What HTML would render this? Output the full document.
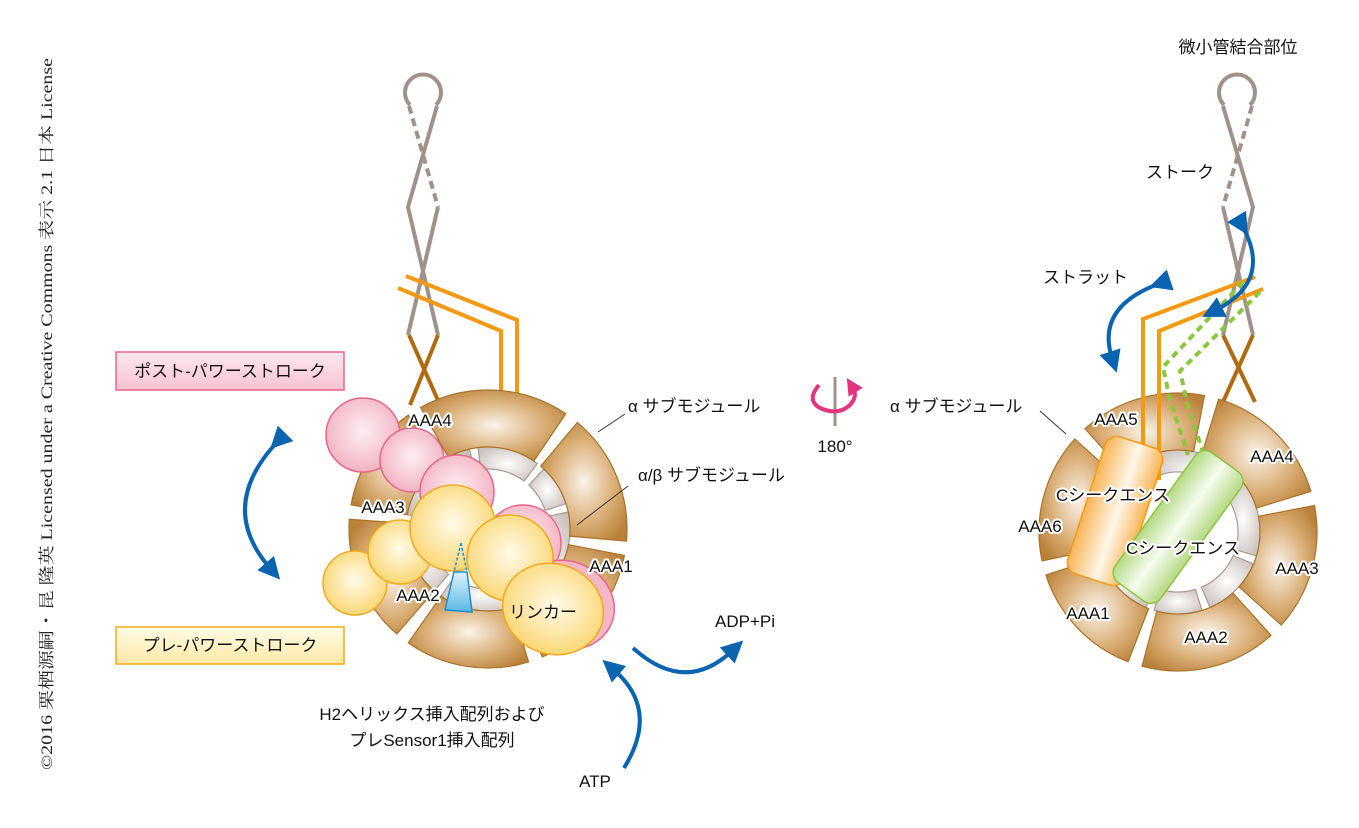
<!DOCTYPE html>
<html><head><meta charset="utf-8"><style>
html,body{margin:0;padding:0;background:#fff;}
svg{display:block;}
text{font-family:"Liberation Sans","Noto Sans CJK JP",sans-serif;fill:#111;}
.lb{font-size:17px;stroke:#fff;stroke-width:4px;paint-order:stroke;stroke-linejoin:round;}
.t{font-size:17px;}
</style></head><body>
<svg id="s" width="1359" height="828" viewBox="0 0 1359 828" xmlns="http://www.w3.org/2000/svg">
<defs>
<radialGradient id="tan" cx="0.5" cy="0.5" r="0.6"><stop offset="0" stop-color="#fbf3ea"/><stop offset="0.6" stop-color="#d9ad74"/><stop offset="1" stop-color="#b9813a"/></radialGradient>
<radialGradient id="gry" cx="0.5" cy="0.5" r="0.6"><stop offset="0" stop-color="#ffffff"/><stop offset="1" stop-color="#c9c1bc"/></radialGradient>
<radialGradient id="pnk" cx="0.5" cy="0.45" r="0.55"><stop offset="0" stop-color="#fdeef2"/><stop offset="1" stop-color="#f3b2c2"/></radialGradient>
<radialGradient id="yel" cx="0.5" cy="0.45" r="0.55"><stop offset="0" stop-color="#fffbea"/><stop offset="1" stop-color="#fbd774"/></radialGradient>
<linearGradient id="org" x1="0" y1="0" x2="1" y2="0"><stop offset="0" stop-color="#f8b455"/><stop offset="0.55" stop-color="#fff7ea"/><stop offset="1" stop-color="#f8b455"/></linearGradient>
<linearGradient id="grn" x1="0" y1="0" x2="1" y2="0"><stop offset="0" stop-color="#b5d983"/><stop offset="0.5" stop-color="#f6fbef"/><stop offset="1" stop-color="#b5d983"/></linearGradient>
<linearGradient id="blu" x1="0" y1="0" x2="0" y2="1"><stop offset="0" stop-color="#dff1fb"/><stop offset="1" stop-color="#5ab8e6"/></linearGradient>
<linearGradient id="pbox" x1="0" y1="0" x2="0" y2="1"><stop offset="0" stop-color="#fde9ef"/><stop offset="1" stop-color="#f7c3d1"/></linearGradient>
<linearGradient id="ybox" x1="0" y1="0" x2="0" y2="1"><stop offset="0" stop-color="#fffbe6"/><stop offset="1" stop-color="#fde9a6"/></linearGradient>
<marker id="ah" viewBox="0 0 10 10" refX="3" refY="5" markerWidth="5.5" markerHeight="5.5" orient="auto" markerUnits="strokeWidth"><path d="M0,0 L10,5 L0,10 z" fill="#0a64b0"/></marker>
<marker id="ahp" viewBox="0 0 10 10" refX="3" refY="5" markerWidth="4.2" markerHeight="4.2" orient="auto" markerUnits="strokeWidth"><path d="M0,0 L10,5 L0,10 z" fill="#e3357f"/></marker>
</defs>

<text transform="translate(52,770) rotate(-90)" style="font-family:'Liberation Serif','Noto Serif CJK SC',serif;font-size:16px;fill:#222" textLength="712" lengthAdjust="spacingAndGlyphs">©2016 栗栖源嗣・昆 隆英 Licensed under a Creative Commons 表示 2.1 日本 License</text>

<!-- LEFT STALK -->
<g fill="none" stroke-linecap="butt">
<path d="M410,105 A18,18 0 1 1 436,105" stroke="#9e928a" stroke-width="4"/>
<path d="M437,106 L408,207 L438,335" stroke="#9e928a" stroke-width="4"/>
<path d="M409,106 L438,207" stroke="#9e928a" stroke-width="4" stroke-dasharray="8,5"/>
<path d="M438,207 L408,335" stroke="#9e928a" stroke-width="4"/>
<path d="M409,335 L440,405 M438,335 L410,405" stroke="#b06a10" stroke-width="4"/>
<path d="M406,276 L517,320 L517,395 M398,288 L501,331 L501,395" stroke="#f39a12" stroke-width="4"/>
</g>

<!-- RIGHT STALK -->
<g fill="none">
<path d="M1224,105 A18,18 0 1 1 1250,105" stroke="#9e928a" stroke-width="4"/>
<path d="M1223,106 L1253,207 L1223,335" stroke="#9e928a" stroke-width="4"/>
<path d="M1252,106 L1223,207" stroke="#9e928a" stroke-width="4" stroke-dasharray="8,5"/>
<path d="M1223,207 L1253,335" stroke="#9e928a" stroke-width="4"/>
<path d="M1223,335 L1255,402 M1253,335 L1223,402" stroke="#b06a10" stroke-width="4"/>
</g>

<g id="lring"></g>
<g id="rring"></g>

<g fill="none">
<path d="M1255,277 L1143,319 L1143,480 M1263,289 L1159,331 L1159,480" stroke="#f39a12" stroke-width="4"/>
<path d="M1243,282 L1163,367 L1170,400 L1188,455 M1260,292 L1180,371 L1188,407 L1203,452" stroke="#8cc63f" stroke-width="4" stroke-dasharray="7,5"/>
</g>

<g transform="translate(1115,511) rotate(18)"><rect x="-30" y="-72" width="60" height="144" rx="12" fill="url(#org)" stroke="#f39a12" stroke-width="1.5"/></g>
<g transform="translate(1178,527) rotate(36)"><rect x="-28" y="-80" width="56" height="160" rx="12" fill="url(#grn)" stroke="#8cc63f" stroke-width="1.5"/></g>

<g stroke-width="1.5">
<circle cx="363" cy="435" r="37" fill="url(#pnk)" stroke="#e5668a"/>
<circle cx="412" cy="460" r="32" fill="url(#pnk)" stroke="#e5668a"/>
<circle cx="457" cy="492" r="37" fill="url(#pnk)" stroke="#e5668a"/>
<circle cx="523" cy="543" r="38" fill="url(#pnk)" stroke="#e5668a"/>
<ellipse cx="565" cy="605" rx="50" ry="44" transform="rotate(20 565 605)" fill="#f4b7c6" stroke="#e5668a"/>
<circle cx="355" cy="583" r="32" fill="url(#yel)" stroke="#f0a91c"/>
<circle cx="400" cy="552" r="32" fill="url(#yel)" stroke="#f0a91c"/>
<circle cx="453" cy="528" r="43" fill="url(#yel)" stroke="#f0a91c"/>
<circle cx="510" cy="558" r="43" fill="url(#yel)" stroke="#f0a91c"/>
<ellipse cx="553" cy="609" rx="51" ry="45" transform="rotate(20 553 609)" fill="url(#yel)" stroke="#f0a91c"/>
<path d="M461,543 L454,572 M461,543 L467,572" fill="none" stroke="#1a8fd0" stroke-width="1.5" stroke-dasharray="3,2"/>
<path d="M454,572 L467,572 L472,612 L445,610 Z" fill="url(#blu)" stroke="#1a8fd0" stroke-width="1.5"/>
</g>

<rect x="116" y="352" width="228" height="38" fill="url(#pbox)" stroke="#e5668a" stroke-width="1.5"/>
<text x="230" y="377" text-anchor="middle" class="t">ポスト-パワーストローク</text>
<rect x="116" y="627" width="228" height="37" fill="url(#ybox)" stroke="#f0a91c" stroke-width="1.5"/>
<text x="230" y="651" text-anchor="middle" class="t">プレ-パワーストローク</text>

<g fill="none" stroke="#0a64b0" stroke-width="4">
<path d="M281,438 Q215,505 270,568" marker-end="url(#ah)" marker-start="url(#ah)"/>
<path d="M624,768 Q660,710 614,670" marker-end="url(#ah)"/>
<path d="M633,648 Q685,695 732,651" marker-end="url(#ah)"/>
<path d="M1164,282 Q1095,305 1112,358" marker-end="url(#ah)" marker-start="url(#ah)"/>
<path d="M1240,222 Q1275,280 1216,310" marker-end="url(#ah)" marker-start="url(#ah)"/>
</g>

<line x1="835" y1="377" x2="835" y2="426" stroke="#9e928a" stroke-width="3"/>
<path d="M819,385 Q806,400 820,408 Q838,416 850,405 Q858,396 853,388" fill="none" stroke="#e3357f" stroke-width="4" marker-end="url(#ahp)"/>
<text x="835" y="452" text-anchor="middle" class="t">180°</text>

<g stroke="#333" stroke-width="1">
<line x1="598" y1="432" x2="625" y2="414"/>
<line x1="577" y1="525" x2="628" y2="486"/>
<line x1="1040" y1="411" x2="1066" y2="434"/>
</g>

<text x="628" y="412" class="t">α サブモジュール</text>
<text x="638" y="481" class="t">α/β サブモジュール</text>
<text x="890" y="412" class="t">α サブモジュール</text>
<text x="1238" y="53" text-anchor="middle" class="t">微小管結合部位</text>
<text x="1146" y="178" class="t">ストーク</text>
<text x="1043" y="283" class="t">ストラット</text>
<text x="745" y="627" text-anchor="middle" class="t">ADP+Pi</text>
<text x="595" y="787" text-anchor="middle" class="t">ATP</text>
<text x="432" y="720" text-anchor="middle" class="t">H2ヘリックス挿入配列および</text>
<text x="432" y="746" text-anchor="middle" class="t">プレSensor1挿入配列</text>

<text x="430" y="426" text-anchor="middle" class="lb">AAA4</text>
<text x="383" y="513" text-anchor="middle" class="lb">AAA3</text>
<text x="418" y="601" text-anchor="middle" class="lb">AAA2</text>
<text x="611" y="572" text-anchor="middle" class="lb">AAA1</text>
<text x="543" y="618" text-anchor="middle" class="t">リンカー</text>

<text x="1116" y="425" text-anchor="middle" class="lb">AAA5</text>
<text x="1272" y="462" text-anchor="middle" class="lb">AAA4</text>
<text x="1297" y="574" text-anchor="middle" class="lb">AAA3</text>
<text x="1206" y="643" text-anchor="middle" class="lb">AAA2</text>
<text x="1088" y="619" text-anchor="middle" class="lb">AAA1</text>
<text x="1040" y="532" text-anchor="middle" class="lb">AAA6</text>
<text x="1113" y="501" text-anchor="middle" class="lb">Cシークエンス</text>
<text x="1183" y="554" text-anchor="middle" class="lb">Cシークエンス</text>
</svg>
<script>
(function(){
var NS="http://www.w3.org/2000/svg";
function sec(cx,cy,r1,r2,a1,a2){
 var r=Math.PI/180,c=Math.cos,s=Math.sin;
 var p=[[cx+r2*c(a1*r),cy+r2*s(a1*r)],[cx+r2*c(a2*r),cy+r2*s(a2*r)],[cx+r1*c(a2*r),cy+r1*s(a2*r)],[cx+r1*c(a1*r),cy+r1*s(a1*r)]];
 var lg=(a2-a1)>180?1:0;
 return "M"+p[0]+" A"+r2+","+r2+" 0 "+lg+" 1 "+p[1]+" L"+p[2]+" A"+r1+","+r1+" 0 "+lg+" 0 "+p[3]+" Z";
}
function ring(id,cx,cy,gaps,ggaps){
 var g=document.getElementById(id),i,pa;
 for(i=0;i<ggaps.length;i++){
  var a1=ggaps[i]+3,a2=(i+1<ggaps.length?ggaps[i+1]:ggaps[0]+360)-3;
  pa=document.createElementNS(NS,"path");pa.setAttribute("d",sec(cx,cy,60,82,a1,a2));
  pa.setAttribute("fill","url(#gry)");pa.setAttribute("stroke","#a59b94");pa.setAttribute("stroke-width","1.2");g.appendChild(pa);
 }
 for(i=0;i<gaps.length;i++){
  var b1=gaps[i]+3,b2=(i+1<gaps.length?gaps[i+1]:gaps[0]+360)-3;
  pa=document.createElementNS(NS,"path");pa.setAttribute("d",sec(cx,cy,82,139,b1,b2));
  pa.setAttribute("fill","url(#tan)");pa.setAttribute("stroke","#a8732a");pa.setAttribute("stroke-width","1.2");g.appendChild(pa);
 }
}
ring("lring",488,529,[-122,-53,8,70,128,187],[-100,-50,-15,60,128,187]);
ring("rring",1178,532,[-135,-76,-14,45,108,165],[-40,20,70,110,170,250]);
})();
</script>
</body></html>
